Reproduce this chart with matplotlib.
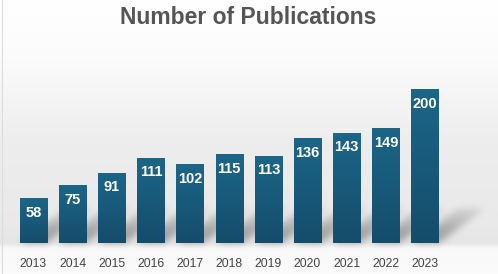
import numpy as np
import matplotlib.pyplot as plt
from matplotlib.colors import LinearSegmentedColormap
from matplotlib.path import Path

years = ['2013', '2014', '2015', '2016', '2017', '2018', '2019', '2020', '2021', '2022', '2023']
pubs = [58, 75, 91, 111, 102, 115, 113, 136, 143, 149, 200]

W, H = 498, 274
fig = plt.figure(figsize=(W / 100, H / 100), dpi=100)

# plot area: 39.15 px per bar slot, 0.77 px per publication
ax = fig.add_axes([13.9 / W, 31 / H, 430.7 / W, 233 / H], zorder=1)
ax.patch.set_alpha(0)
x = np.arange(len(years))
ax.set_xlim(-0.5, len(years) - 0.5)
ax.set_ylim(0, 233 / 0.77)

# background: white top, soft gray wall, light floor
bg = fig.add_axes([0, 0, 1, 1], zorder=0)
rows = np.arange(H)
shade = np.interp(rows, [0, 60, 140, 225, 242, 248, 274],
                  [1.0, 0.985, 0.93, 0.915, 0.9, 0.975, 0.985])
img = np.repeat(shade[:, None], W, axis=1)

# soft shadows leaning back to the right, blurred in pixel space
yy, xx = np.mgrid[0:H, 0:W]
pts = np.column_stack([xx.ravel() + 0.5, yy.ravel() + 0.5])
mask = np.zeros(H * W)
to_px = ax.transData
for xi in x:
    corners = to_px.transform([(xi - 0.35, 0), (xi + 0.35, 0),
                               (xi + 0.35 + 1.2, 46), (xi - 0.35 + 1.2, 46)])
    corners[:, 1] = H - corners[:, 1]
    mask[Path(corners).contains_points(pts)] = 1.0
mask = mask.reshape(H, W)
fade = np.clip((rows - 198) / 35, 0, 1)[:, None]
mask = mask * fade
k = np.ones(7) / 7
for _ in range(3):
    mask = np.apply_along_axis(lambda r: np.convolve(r, k, mode='same'), 1, mask)
    mask = np.apply_along_axis(lambda c: np.convolve(c, k, mode='same'), 0, mask)
img = img * (1 - 0.3 * mask)

bg.imshow(np.dstack([img, img, img]), aspect='auto', extent=[0, W, H, 0])
bg.set_xlim(0, W)
bg.set_ylim(H, 0)
bg.axis('off')
bg.plot([1.5, 1.5], [0, H], color='#dddddd', lw=0.8)

bar_cmap = LinearSegmentedColormap.from_list('bar', ['#154c6b', '#1c6688'])
bars = ax.bar(x, pubs, width=0.7, color='#195a7b', zorder=2)
grad = np.linspace(0, 1, 256)[:, None]
for b in bars:
    x0, y0 = b.get_x(), b.get_y()
    im = ax.imshow(grad, cmap=bar_cmap, aspect='auto', origin='lower',
                   extent=[x0, x0 + b.get_width(), y0, y0 + b.get_height()], zorder=3)
    im.set_clip_path(b)
    ax.text(b.get_x() + b.get_width() / 2, b.get_height() - 14.5 / 0.77,
            str(int(b.get_height())), ha='center', va='center', color='white',
            fontsize=10.5, fontweight='bold', family='Liberation Sans', zorder=4)
ax.set_xlim(-0.5, len(years) - 0.5)
ax.set_ylim(0, 233 / 0.77)

ax.set_xticks(x)
ax.set_xticklabels(years, fontsize=8.8, color='#444444', family='Liberation Sans')
ax.tick_params(axis='x', length=0, pad=11)
ax.set_yticks([])
for s in ax.spines.values():
    s.set_visible(False)

fig.text(248 / W, 1 - 18 / H, 'Number of Publications', ha='center', va='center',
         fontsize=16.5, fontweight='bold', color='#555555', family='Liberation Sans')

fig.savefig('out.png', dpi=100)
